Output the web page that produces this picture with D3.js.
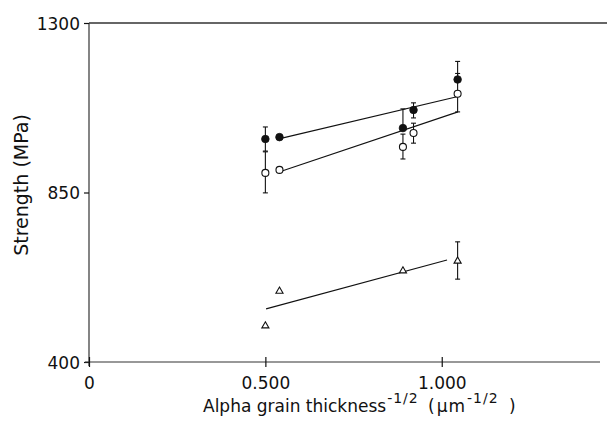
<!DOCTYPE html>
<html>
<head>
<meta charset="utf-8">
<script src="https://cdn.jsdelivr.net/npm/d3@7"></script>
<style>
  html, body { margin: 0; padding: 0; background: #fff; }
  svg { display: block; font-family: "DejaVu Sans", sans-serif; }
</style>
</head>
<body>
<svg id="chart" width="607" height="421"></svg>
<script>
// ---- Data ----
const xTickValues = [0, 0.5, 1.0];
const xTickLabels = ["0", "0.500", "1.000"];
const yTickValues = [400, 850, 1300];
const yTickLabels = ["400", "850", "1300"];

// Filled circles
const filledX   = [0.50, 0.54, 0.89, 0.92, 1.045];
const filledY   = [992, 997, 1021, 1069, 1150];
const filledHi  = [1024, null, 1072, 1088, 1198];
const filledLo  = [960, null, null, 1048, null];

// Open circles
const openX   = [0.50, 0.54, 0.89, 0.92, 1.045];
const openY   = [902, 910, 971, 1008, 1112];
const openHi  = [958, null, 1005, 1034, 1166];
const openLo  = [849, null, 939, 981, 1064];

// Triangles
const triX   = [0.50, 0.54, 0.89, 1.045];
const triY   = [496, 588, 642, 668];
const triHi  = [null, null, null, 719];
const triLo  = [null, null, null, 620];

// Fitted lines (endpoints)
const filledFitX = [0.55, 1.046];
const filledFitY = [995, 1105];
const openFitX   = [0.547, 1.046];
const openFitY   = [907, 1064];
const triFitX    = [0.502, 1.015];
const triFitY    = [541, 671];

// ---- Layout ----
const svg = d3.select("#chart");
const x = d3.scaleLinear().domain([0, 1.46]).range([89, 604]);
const y = d3.scaleLinear().domain([400, 1300]).range([362, 23]);
const ink = "#111";

// top frame line
svg.append("line")
  .attr("x1", x(0)).attr("x2", 607)
  .attr("y1", y(1300)).attr("y2", y(1300))
  .attr("stroke", "#333").attr("stroke-width", 1.3);

// Y axis
const yAxis = svg.append("g")
  .attr("transform", `translate(${x(0)},0)`)
  .call(d3.axisLeft(y).tickValues(yTickValues).tickSize(5).tickSizeOuter(0).tickPadding(4)
    .tickFormat((d, i) => yTickLabels[i]));
yAxis.select(".domain").attr("stroke", "#333").attr("stroke-width", 1.2)
  .attr("d", `M0,${y(1300)}V${y(400) + 4}`);
yAxis.selectAll(".tick line").attr("stroke", ink).attr("stroke-width", 1.2);
yAxis.selectAll(".tick text")
  .attr("fill", ink).attr("font-size", 17).attr("font-family", "DejaVu Sans, sans-serif")
  .attr("dy", "0.36em");

// X axis
const xAxis = svg.append("g")
  .attr("transform", `translate(0,${y(400)})`)
  .call(d3.axisBottom(x).tickValues(xTickValues).tickSize(5).tickSizeOuter(0)
    .tickFormat((d, i) => xTickLabels[i]));
xAxis.select(".domain").attr("stroke", "#333").attr("stroke-width", 1.2)
  .attr("d", `M${x(0) - 4},0H600`);
xAxis.selectAll(".tick line").attr("stroke", ink).attr("stroke-width", 1.2)
  .attr("y1", -5).attr("y2", 5);
xAxis.selectAll(".tick text")
  .attr("fill", ink).attr("font-size", 17).attr("font-family", "DejaVu Sans, sans-serif")
  .attr("y", 27).attr("dy", 0);

// Axis titles
svg.append("text")
  .attr("transform", "translate(28,185) rotate(-90)")
  .attr("text-anchor", "middle")
  .attr("font-size", 19).attr("fill", ink)
  .text("Strength (MPa)");

const xt = svg.append("text")
  .attr("x", 203).attr("y", 412)
  .attr("font-size", 17).attr("fill", ink);
xt.append("tspan").text("Alpha grain thickness");
xt.append("tspan").attr("dy", -9).attr("dx", 1).attr("font-size", 14)
  .attr("letter-spacing", 1).text("-1/2");
xt.append("tspan").attr("dy", 9).attr("x", 428).text("(");
xt.append("tspan").attr("dx", 2).attr("letter-spacing", 1).text("\u03bcm");
xt.append("tspan").attr("dy", -9).attr("dx", 1).attr("font-size", 14)
  .attr("letter-spacing", 1).text("-1/2");
xt.append("tspan").attr("dy", 9).attr("x", 509).text(")");

// Fit lines
const line = d3.line().x(d => x(d[0])).y(d => y(d[1]));
function fit(xs, ys) {
  svg.append("path")
    .datum(xs.map((v, i) => [v, ys[i]]))
    .attr("d", line).attr("fill", "none")
    .attr("stroke", ink).attr("stroke-width", 1.1);
}
fit(filledFitX, filledFitY);
fit(openFitX, openFitY);
fit(triFitX, triFitY);

// Error bars
function errs(xs, ys, his, los) {
  const g = svg.append("g").attr("stroke", ink).attr("stroke-width", 1.1);
  xs.forEach((xv, i) => {
    const cx = x(xv);
    [his[i], los[i]].forEach(e => {
      if (e == null) return;
      g.append("line").attr("x1", cx).attr("x2", cx)
        .attr("y1", y(ys[i])).attr("y2", y(e));
      g.append("line").attr("x1", cx - 2.5).attr("x2", cx + 2.5)
        .attr("y1", y(e)).attr("y2", y(e));
    });
  });
}
errs(filledX, filledY, filledHi, filledLo);
errs(openX, openY, openHi, openLo);
errs(triX, triY, triHi, triLo);

// Markers
svg.append("g").selectAll("circle")
  .data(openX.map((v, i) => [v, openY[i]]))
  .join("circle")
  .attr("cx", d => x(d[0])).attr("cy", d => y(d[1])).attr("r", 3.5)
  .attr("fill", "#fff").attr("stroke", ink).attr("stroke-width", 1.1);

svg.append("g").selectAll("circle")
  .data(filledX.map((v, i) => [v, filledY[i]]))
  .join("circle")
  .attr("cx", d => x(d[0])).attr("cy", d => y(d[1])).attr("r", 3.8)
  .attr("fill", ink).attr("stroke", ink).attr("stroke-width", 0.8);

const tri = d3.symbol().type(d3.symbolTriangle).size(22);
svg.append("g").selectAll("path")
  .data(triX.map((v, i) => [v, triY[i]]))
  .join("path")
  .attr("d", tri)
  .attr("transform", d => `translate(${x(d[0])},${y(d[1])})`)
  .attr("fill", "#fff").attr("stroke", ink).attr("stroke-width", 1.1);
</script>
</body>
</html>
